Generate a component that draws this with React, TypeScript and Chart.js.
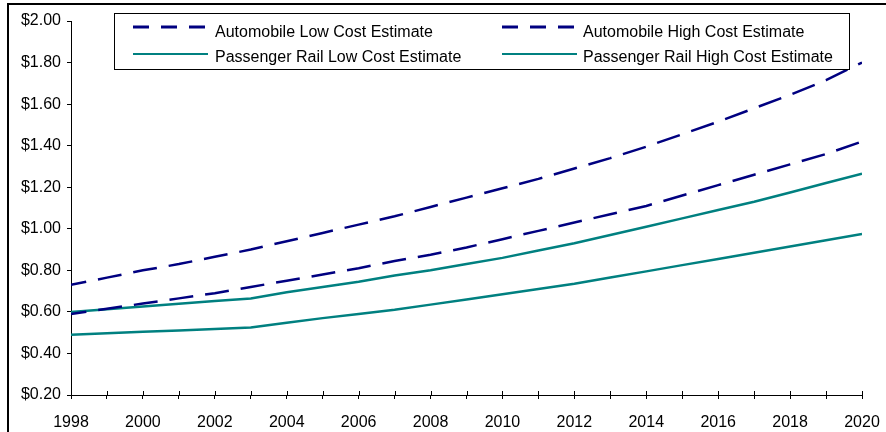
import { useEffect, useRef } from "react";
import { Chart, registerables } from "chart.js";

Chart.register(...registerables);

// Cost per passenger-mile, 1998–2020
const years = [
  1998, 1999, 2000, 2001, 2002, 2003, 2004, 2005, 2006, 2007, 2008, 2009,
  2010, 2011, 2012, 2013, 2014, 2015, 2016, 2017, 2018, 2019, 2020,
];
const autoLow = [
  0.59, 0.615, 0.64, 0.665, 0.69, 0.72, 0.75, 0.78, 0.81, 0.845, 0.875, 0.91,
  0.95, 0.99, 1.03, 1.07, 1.11, 1.16, 1.21, 1.26, 1.31, 1.36, 1.42,
];
const autoHigh = [
  0.73, 0.765, 0.8, 0.83, 0.865, 0.9, 0.94, 0.98, 1.02, 1.06, 1.105, 1.15,
  1.195, 1.24, 1.29, 1.34, 1.395, 1.455, 1.515, 1.58, 1.645, 1.715, 1.8,
];
const railLow = [
  0.49, 0.497, 0.504, 0.511, 0.518, 0.525, 0.548, 0.57, 0.59, 0.61, 0.635,
  0.66, 0.685, 0.71, 0.735, 0.765, 0.795, 0.825, 0.855, 0.885, 0.915, 0.945,
  0.975,
];
const railHigh = [
  0.6, 0.613, 0.626, 0.639, 0.652, 0.665, 0.695, 0.72, 0.745, 0.775, 0.8,
  0.83, 0.86, 0.895, 0.93, 0.97, 1.01, 1.05, 1.09, 1.13, 1.175, 1.22, 1.265,
];

const seriesNames = [
  "Automobile Low Cost Estimate",
  "Automobile High Cost Estimate",
  "Passenger Rail Low Cost Estimate",
  "Passenger Rail High Cost Estimate",
];

const yMin = 0.2;
const yMax = 2.0;
const yStep = 0.2;

const NAVY = "#000080";
const TEAL = "#008080";
const FONT = "'Liberation Sans', Arial, Helvetica, sans-serif";

const toPoints = (vals: number[]) => years.map((yr, i) => ({ x: yr, y: vals[i] }));

// Outer frame, crossing x-axis ticks and the boxed legend
const decorations = {
  id: "decorations",
  beforeDraw(chart: any) {
    const ctx = chart.ctx;
    ctx.save();
    ctx.fillStyle = "#000";
    ctx.fillRect(7, 3, chart.width - 7, 2);
    ctx.fillRect(7, 3, 2, chart.height - 3);
    ctx.restore();
  },
  afterDraw(chart: any) {
    const ctx = chart.ctx;
    const xs = chart.scales.x;
    const bottom = chart.chartArea.bottom;

    ctx.save();
    ctx.strokeStyle = "#000";
    ctx.lineWidth = 1;
    xs.ticks.forEach((t: any) => {
      const px = Math.round(xs.getPixelForValue(t.value)) + 0.5;
      ctx.beginPath();
      ctx.moveTo(px, bottom - 4);
      ctx.lineTo(px, bottom);
      ctx.stroke();
    });

    // legend box
    const bx = 114;
    const by = 13;
    const bw = 735;
    const bh = 56;
    ctx.fillStyle = "#fff";
    ctx.fillRect(bx, by, bw, bh);
    ctx.strokeStyle = "#000";
    ctx.lineWidth = 1;
    ctx.strokeRect(bx + 0.5, by + 0.5, bw, bh);

    const cols = [
      { sample: bx + 19, text: bx + 101 },
      { sample: bx + 388, text: bx + 469 },
    ];
    const rows = [
      { sample: by + 14, text: by + 23.5 },
      { sample: by + 41, text: by + 48.5 },
    ];
    ctx.font = `16px ${FONT}`;
    ctx.textBaseline = "alphabetic";
    ctx.textAlign = "left";
    chart.data.datasets.forEach((ds: any, i: number) => {
      const c = cols[i % 2];
      const r = rows[Math.floor(i / 2)];
      const dashed = (ds.borderDash || []).length > 0;
      ctx.save();
      ctx.strokeStyle = ds.borderColor;
      ctx.lineWidth = dashed ? 3 : 2;
      ctx.setLineDash(dashed ? [16, 12] : []);
      ctx.beginPath();
      ctx.moveTo(c.sample, r.sample);
      ctx.lineTo(c.sample + 75, r.sample);
      ctx.stroke();
      ctx.restore();
      ctx.fillStyle = "#000";
      ctx.fillText(ds.label, c.text, r.text);
    });
    ctx.restore();
  },
};

export default function App() {
  const canvasRef = useRef<HTMLCanvasElement | null>(null);

  useEffect(() => {
    document.body.style.margin = "0";
    const canvas = canvasRef.current;
    if (!canvas) return;

    const dashedLine = {
      borderWidth: 2.5,
      borderDash: [24, 12],
      borderDashOffset: 8.5,
      pointRadius: 0,
      tension: 0,
      fill: false,
    };
    const solidLine = {
      borderWidth: 2.5,
      pointRadius: 0,
      tension: 0,
      fill: false,
    };

    const chart = new Chart(canvas, {
      type: "line",
      data: {
        datasets: [
          { ...dashedLine, label: seriesNames[0], data: toPoints(autoLow), borderColor: NAVY },
          { ...dashedLine, label: seriesNames[1], data: toPoints(autoHigh), borderColor: NAVY },
          { ...solidLine, label: seriesNames[2], data: toPoints(railLow), borderColor: TEAL },
          { ...solidLine, label: seriesNames[3], data: toPoints(railHigh), borderColor: TEAL },
        ],
      },
      options: {
        responsive: false,
        animation: false,
        layout: { padding: { left: 8, top: 21, right: 24, bottom: 0 } },
        plugins: {
          legend: { display: false },
          tooltip: { enabled: false },
        },
        scales: {
          x: {
            type: "linear",
            min: years[0],
            max: years[years.length - 1],
            afterFit: (scale: any) => {
              scale.height = 37;
              scale.paddingLeft = 0;
              scale.paddingRight = 0;
            },
            ticks: {
              stepSize: 1,
              autoSkip: false,
              maxRotation: 0,
              padding: 14,
              color: "#000",
              font: { family: FONT, size: 16 },
              callback: (v: any) => (Number(v) % 2 === 0 ? String(v) : ""),
            },
            grid: {
              display: true,
              drawOnChartArea: false,
              drawTicks: true,
              tickLength: 4,
              color: "#000",
              lineWidth: 1,
            },
            border: { display: true, color: "#000", width: 1 },
          },
          y: {
            min: yMin,
            max: yMax,
            afterFit: (scale: any) => {
              scale.width = 63;
            },
            ticks: {
              stepSize: yStep,
              padding: 6,
              color: "#000",
              font: { family: FONT, size: 16 },
              callback: (v: any) => "$" + Number(v).toFixed(2),
            },
            grid: {
              display: true,
              drawOnChartArea: false,
              drawTicks: true,
              tickLength: 4,
              color: "#000",
              lineWidth: 1,
            },
            border: { display: true, color: "#000", width: 1 },
          },
        },
      },
      plugins: [decorations],
    });

    return () => chart.destroy();
  }, []);

  return (
    <div style={{ width: 886, height: 432, background: "#fff" }}>
      <canvas ref={canvasRef} width={886} height={432} />
    </div>
  );
}
